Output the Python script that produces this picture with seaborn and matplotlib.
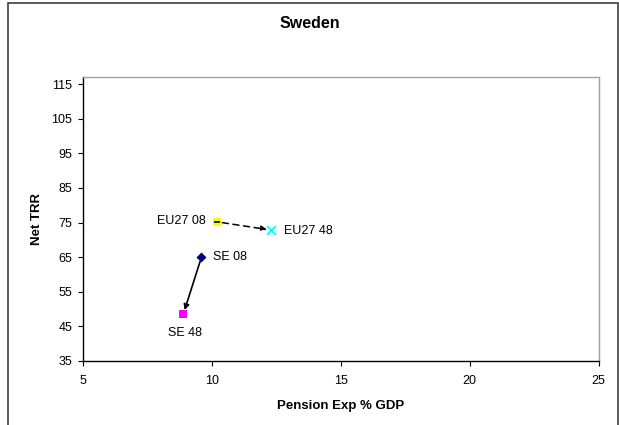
import matplotlib
matplotlib.use("Agg")
import matplotlib.pyplot as plt
import matplotlib.patches as mpatches
import seaborn as sns

# Pension expenditure (% of GDP) vs net theoretical replacement rate
labels = ["EU27 08", "EU27 48", "SE 08", "SE 48"]
pension_exp = [10.2, 12.3, 9.6, 8.9]
net_trr = [75.2, 72.8, 64.9, 48.5]
colors = ["#FFFF00", "#00FFFF", "#000080", "#FF00FF"]
markers = ["s", "x", "D", "s"]
sizes = [34, 40, 26, 28]

x_ticks = [5, 10, 15, 20, 25]
y_ticks = [35, 45, 55, 65, 75, 85, 95, 105, 115]

sns.set_theme(style="white")
plt.rcParams["font.family"] = ["Liberation Sans", "DejaVu Sans"]
plt.rcParams["text.color"] = "black"
plt.rcParams["axes.labelcolor"] = "black"

fig = plt.figure(figsize=(6.19, 4.25), dpi=100)
ax = fig.add_axes([82.7 / 619, 1 - 360.7 / 425, (598.7 - 82.7) / 619, (360.7 - 76.7) / 425])

# transitions 2008 -> 2048
ax.annotate("", xy=(pension_exp[1], net_trr[1]), xytext=(pension_exp[0], net_trr[0]),
            arrowprops=dict(arrowstyle="-|>", color="black", lw=1.1, linestyle=(0, (4, 3)),
                            mutation_scale=8, shrinkA=4, shrinkB=3), zorder=2)
ax.annotate("", xy=(pension_exp[3], net_trr[3]), xytext=(pension_exp[2], net_trr[2]),
            arrowprops=dict(arrowstyle="-|>", color="black", lw=1.2,
                            mutation_scale=8, shrinkA=3, shrinkB=3), zorder=2)

for xv, yv, c, m, s in zip(pension_exp, net_trr, colors, markers, sizes):
    if m == "x":
        sns.scatterplot(x=[xv], y=[yv], marker=m, color=c, s=s, linewidth=1.3,
                        legend=False, ax=ax, zorder=3)
    else:
        sns.scatterplot(x=[xv], y=[yv], marker=m, color=c, s=s, linewidth=0,
                        legend=False, ax=ax, zorder=3)
# dash marker inside the EU27 2008 point
ax.scatter([pension_exp[0]], [net_trr[0]], marker="_", color="black", s=16, linewidths=1.2, zorder=4)

fs = 9
ax.text(pension_exp[0] - 0.43, net_trr[0] + 0.3, labels[0], ha="right", va="center", fontsize=fs)
ax.text(pension_exp[1] + 0.49, net_trr[1] - 0.2, labels[1], ha="left", va="center", fontsize=fs)
ax.text(pension_exp[2] + 0.45, net_trr[2] + 0.1, labels[2], ha="left", va="center", fontsize=fs)
ax.text(pension_exp[3] + 0.05, net_trr[3] - 5.5, labels[3], ha="center", va="center", fontsize=fs)

ax.set_xlim(5, 25)
ax.set_ylim(35, 117.2)
ax.set_xticks(x_ticks)
ax.set_yticks(y_ticks)
ax.tick_params(axis="both", labelsize=9, length=3.5, width=0.8, direction="out",
               bottom=True, left=True, colors="black")
ax.tick_params(axis="x", pad=7)
ax.tick_params(axis="y", pad=4)
for side in ("left", "bottom"):
    ax.spines[side].set_color("black")
    ax.spines[side].set_linewidth(1.0)
for side in ("top", "right"):
    ax.spines[side].set_color("#A0A0A0")
    ax.spines[side].set_linewidth(1.0)

ax.set_xlabel("Pension Exp % GDP", fontsize=9.5, fontweight="bold", labelpad=9)
ax.set_ylabel("Net TRR", fontsize=9.5, fontweight="bold", labelpad=6)
fig.text(310 / 619, 1 - 24 / 425, "Sweden", ha="center", va="center", fontsize=11.5, fontweight="bold")

# outer chart frame
frame = mpatches.Rectangle((8 / 619, -0.2), (617.5 - 8) / 619, 1.2 - 2.5 / 425,
                           transform=fig.transFigure, fill=False, edgecolor="#404040",
                           linewidth=1.2, clip_on=False)
fig.patches.append(frame)

fig.savefig("out.png", dpi=100)
